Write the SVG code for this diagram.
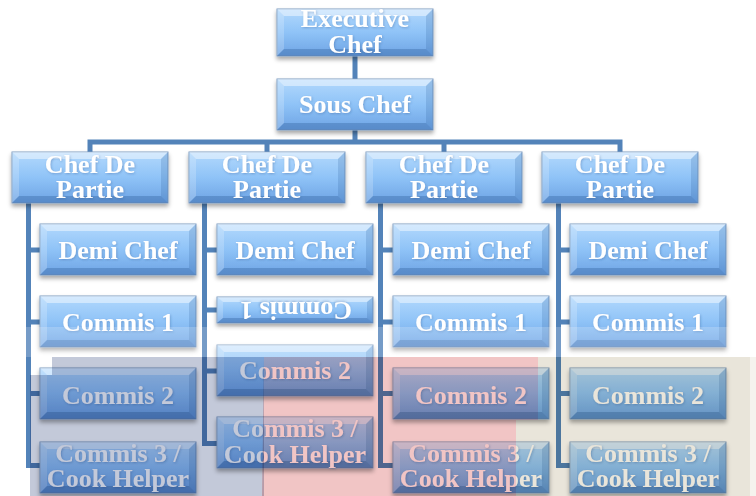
<svg xmlns="http://www.w3.org/2000/svg" xmlns:xlink="http://www.w3.org/1999/xlink" width="756" height="496" viewBox="0 0 756 496">
<defs>
<style>
.t{font-family:"Liberation Serif","Times New Roman",serif;font-weight:bold;font-size:26px;fill:#fff;text-anchor:middle;filter:url(#ts)}
.c{fill:none;stroke:#5383b9;stroke-width:5}
.m{mix-blend-mode:multiply}
</style>
<linearGradient id="gb" x1="0" y1="0" x2="0" y2="1">
<stop offset="0" stop-color="#b3d9fd"/>
<stop offset="0.5" stop-color="#8fc3f7"/>
<stop offset="1" stop-color="#6da3e4"/>
</linearGradient>
<filter id="sh" x="-10%" y="-20%" width="120%" height="150%">
<feDropShadow dx="0" dy="3" stdDeviation="2.2" flood-color="#000" flood-opacity="0.35"/>
</filter>
<filter id="ts" x="-10%" y="-20%" width="120%" height="150%">
<feDropShadow dx="0.8" dy="1" stdDeviation="0.8" flood-color="#27508a" flood-opacity="0.35"/>
</filter>
<g id="bx">
<rect width="156" height="51" fill="url(#gb)" stroke="#7f9dc2" stroke-width="1" filter="url(#sh)"/>
<path d="M0 0H156L149 7H7Z" fill="#fff" opacity=".45"/>
<path d="M0 0L7 7V44L0 51Z" fill="#fff" opacity=".2"/>
<path d="M156 0V51L149 44V7Z" fill="#24548f" opacity=".18"/>
<path d="M0 51L7 44H149L156 51Z" fill="#24548f" opacity=".3"/>
</g>
<g id="bx47">
<rect width="156" height="47" fill="url(#gb)" stroke="#7f9dc2" stroke-width="1" filter="url(#sh)"/>
<path d="M0 0H156L149 7H7Z" fill="#fff" opacity=".45"/>
<path d="M0 0L7 7V40L0 47Z" fill="#fff" opacity=".2"/>
<path d="M156 0V47L149 40V7Z" fill="#24548f" opacity=".18"/>
<path d="M0 47L7 40H149L156 47Z" fill="#24548f" opacity=".3"/>
</g>
<g id="bx26">
<rect width="156" height="26" fill="url(#gb)" stroke="#7f9dc2" stroke-width="1" filter="url(#sh)"/>
<path d="M0 0H156L150 5H6Z" fill="#fff" opacity=".45"/>
<path d="M0 0L6 5V21L0 26Z" fill="#fff" opacity=".2"/>
<path d="M156 0V26L150 21V5Z" fill="#24548f" opacity=".18"/>
<path d="M0 26L6 21H150L156 26Z" fill="#24548f" opacity=".3"/>
</g>
</defs>
<rect width="756" height="496" fill="#fff"/>
<g id="connectors">
<path class="c" d="M355 56V79M355 129V142M90 152V142H620V152M267 142V152M444 142V152"/>
<path class="c" d="M28.5 203V465.5H40M28.5 250H40M28.5 322H40M28.5 393.5H40"/>
<path class="c" d="M204.5 203V443.5H217M204.5 250H217M204.5 310H217M204.5 371H217"/>
<path class="c" d="M380.5 203V465.5H393M380.5 250H393M380.5 322H393M380.5 393.5H393"/>
<path class="c" d="M558.5 203V465.5H570M558.5 250H570M558.5 322H570M558.5 393.5H570"/>
</g>
<g id="exec"><use href="#bx47" x="277" y="9"/><text class="t" x="355" y="27">Executive</text><text class="t" x="355" y="53">Chef</text></g>
<g id="sous"><use href="#bx" x="277" y="79"/><text class="t" x="355" y="113">Sous Chef</text></g>
<g id="cdp1"><use href="#bx" x="12" y="152"/><text class="t" x="90" y="173">Chef De</text><text class="t" x="90" y="198">Partie</text></g>
<g id="cdp2"><use href="#bx" x="189" y="152"/><text class="t" x="267" y="173">Chef De</text><text class="t" x="267" y="198">Partie</text></g>
<g id="cdp3"><use href="#bx" x="366" y="152"/><text class="t" x="444" y="173">Chef De</text><text class="t" x="444" y="198">Partie</text></g>
<g id="cdp4"><use href="#bx" x="542" y="152"/><text class="t" x="620" y="173">Chef De</text><text class="t" x="620" y="198">Partie</text></g>
<g id="demi1"><use href="#bx" x="40" y="224"/><text class="t" x="118" y="259">Demi Chef</text></g>
<g id="demi2"><use href="#bx" x="217" y="224"/><text class="t" x="295" y="259">Demi Chef</text></g>
<g id="demi3"><use href="#bx" x="393" y="224"/><text class="t" x="471" y="259">Demi Chef</text></g>
<g id="demi4"><use href="#bx" x="570" y="224"/><text class="t" x="648" y="259">Demi Chef</text></g>
<g id="c1a"><use href="#bx" x="40" y="296"/><text class="t" x="118" y="331">Commis 1</text></g>
<g id="c1b"><use href="#bx26" x="217" y="297"/><text class="t" x="296" y="318" transform="rotate(180 296 310)">Commis 1</text></g>
<g id="c1c"><use href="#bx" x="393" y="296"/><text class="t" x="471" y="331">Commis 1</text></g>
<g id="c1d"><use href="#bx" x="570" y="296"/><text class="t" x="648" y="331">Commis 1</text></g>
<g id="c2a"><use href="#bx" x="40" y="368"/><text class="t" x="118" y="404">Commis 2</text></g>
<g id="c2b"><use href="#bx" x="217" y="345"/><text class="t" x="295" y="379">Commis 2</text></g>
<g id="c2c"><use href="#bx" x="393" y="368"/><text class="t" x="471" y="404">Commis 2</text></g>
<g id="c2d"><use href="#bx" x="570" y="368"/><text class="t" x="648" y="404">Commis 2</text></g>
<g id="c3a"><use href="#bx" x="40" y="442"/><text class="t" x="118" y="462">Commis 3 /</text><text class="t" x="118" y="487">Cook Helper</text></g>
<g id="c3b"><use href="#bx" x="217" y="417"/><text class="t" x="295" y="437">Commis 3 /</text><text class="t" x="295" y="463">Cook Helper</text></g>
<g id="c3c"><use href="#bx" x="393" y="442"/><text class="t" x="471" y="462">Commis 3 /</text><text class="t" x="471" y="487">Cook Helper</text></g>
<g id="c3d"><use href="#bx" x="570" y="442"/><text class="t" x="648" y="462">Commis 3 /</text><text class="t" x="648" y="487">Cook Helper</text></g>
<g id="overlays">
<rect x="0" y="327" width="756" height="30" fill="#fff" opacity=".2"/>
<path class="m" d="M52 357H264V496H30V375H52Z" fill="#c3c9d9"/>
<path class="m" d="M264 357H538V420H516V496H262Z" fill="#f1c5c5"/>
<path class="m" d="M538 357H750V496H516V420H538Z" fill="#e9e5da"/>
<path class="m" d="M750 357H756V496H750Z" fill="#f5f3ee"/>
</g>
</svg>
